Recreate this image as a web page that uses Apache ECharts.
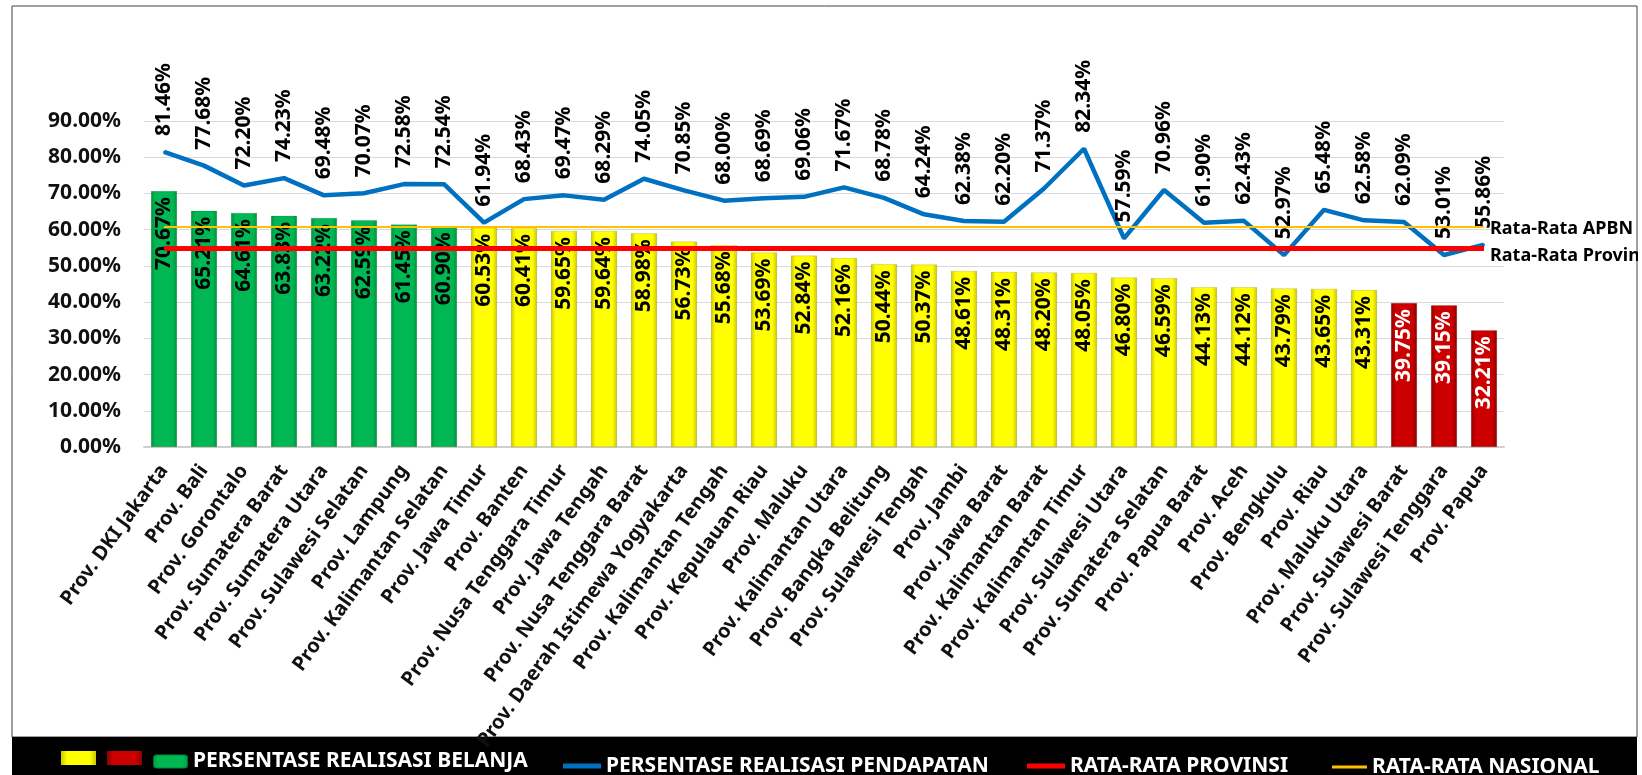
<!DOCTYPE html>
<html>
<head>
<meta charset="utf-8">
<title>Realisasi Belanja dan Pendapatan Provinsi</title>
<script src="https://cdn.jsdelivr.net/npm/echarts@6/dist/echarts.min.js"></script>
<style>
  body { margin: 0; background: #fff; }
  #chart { width: 1642px; height: 775px; }
</style>
</head>
<body>
<div id="chart"></div>
<script>
// data
const kategori = [
  'Prov. DKI Jakarta', 'Prov. Bali', 'Prov. Gorontalo', 'Prov. Sumatera Barat',
  'Prov. Sumatera Utara', 'Prov. Sulawesi Selatan', 'Prov. Lampung', 'Prov. Kalimantan Selatan',
  'Prov. Jawa Timur', 'Prov. Banten', 'Prov. Nusa Tenggara Timur', 'Prov. Jawa Tengah',
  'Prov. Nusa Tenggara Barat', 'Prov. Daerah Istimewa Yogyakarta', 'Prov. Kalimantan Tengah',
  'Prov. Kepulauan Riau', 'Prov. Maluku', 'Prov. Kalimantan Utara', 'Prov. Bangka Belitung',
  'Prov. Sulawesi Tengah', 'Prov. Jambi', 'Prov. Jawa Barat', 'Prov. Kalimantan Barat',
  'Prov. Kalimantan Timur', 'Prov. Sulawesi Utara', 'Prov. Sumatera Selatan', 'Prov. Papua Barat',
  'Prov. Aceh', 'Prov. Bengkulu', 'Prov. Riau', 'Prov. Maluku Utara', 'Prov. Sulawesi Barat',
  'Prov. Sulawesi Tenggara', 'Prov. Papua'
];
const realisasiBelanja = [
  70.67, 65.21, 64.61, 63.83, 63.22, 62.59, 61.45, 60.90, 60.53, 60.41, 59.65, 59.64,
  58.98, 56.73, 55.68, 53.69, 52.84, 52.16, 50.44, 50.37, 48.61, 48.31, 48.20, 48.05,
  46.80, 46.59, 44.13, 44.12, 43.79, 43.65, 43.31, 39.75, 39.15, 32.21
];
const realisasiPendapatan = [
  81.46, 77.68, 72.20, 74.23, 69.48, 70.07, 72.58, 72.54, 61.94, 68.43, 69.47, 68.29,
  74.05, 70.85, 68.00, 68.69, 69.06, 71.67, 68.78, 64.24, 62.38, 62.20, 71.37, 82.34,
  57.59, 70.96, 61.90, 62.43, 52.97, 65.48, 62.58, 62.09, 53.01, 55.86
];
const rataRataProvinsi = 54.85;
const rataRataNasional = 60.75;
const batasBawah = 40;
const yTicks = [0, 10, 20, 30, 40, 50, 60, 70, 80, 90];

const FONT = 'Noto Sans';

function bevel(edge, mid) {
  return new echarts.graphic.LinearGradient(0, 0, 1, 0, [
    { offset: 0, color: edge },
    { offset: 0.18, color: mid },
    { offset: 0.82, color: mid },
    { offset: 1, color: edge }
  ]);
}
const hijau = bevel('#00933f', '#00b853');
const kuning = bevel('#c9c900', '#ffff00');
const merah = bevel('#8a0000', '#cc0000');

const persen = v => v.toFixed(2) + '%';

const barData = realisasiBelanja.map(v => {
  if (v > rataRataNasional) return { value: v };
  if (v < batasBawah) return { value: v, itemStyle: { color: merah }, label: { color: '#fff' } };
  return { value: v, itemStyle: { color: kuning } };
});

const first = kategori[0];
const last = kategori[kategori.length - 1];

const legendText = { color: '#fff', fontSize: 21, fontWeight: 'bold', fontFamily: FONT };

var myChart = echarts.init(document.getElementById('chart'));

var option = {
  animation: false,
  backgroundColor: '#fff',
  textStyle: { fontFamily: FONT },
  grid: { left: 144, right: 138, top: 121, bottom: 328 },
  legend: [
    {
      data: ['PERSENTASE REALISASI BELANJA'],
      left: 152, top: 751, padding: 0, itemWidth: 35, itemHeight: 14,
      textStyle: legendText
    },
    {
      data: [{ name: 'PERSENTASE REALISASI PENDAPATAN', icon: 'rect' }],
      left: 563, top: 755.5, padding: 0, itemWidth: 38, itemHeight: 5,
      textStyle: legendText
    },
    {
      data: [{ name: 'RATA-RATA PROVINSI', icon: 'rect' }],
      left: 1027, top: 755.5, padding: 0, itemWidth: 38, itemHeight: 5,
      textStyle: legendText
    },
    {
      data: [{ name: 'RATA-RATA NASIONAL', icon: 'rect' }],
      left: 1332, top: 756.5, padding: 0, itemWidth: 35, itemHeight: 3,
      textStyle: legendText
    }
  ],
  xAxis: {
    type: 'category',
    data: kategori,
    axisTick: { show: false },
    axisLine: { lineStyle: { color: '#d0d0d0', width: 2 } },
    axisLabel: {
      interval: 0,
      rotate: 54,
      margin: 20,
      fontSize: 20,
      fontWeight: 'bold',
      color: '#111',
      fontFamily: FONT
    }
  },
  yAxis: {
    type: 'value',
    min: yTicks[0],
    max: yTicks[yTicks.length - 1],
    interval: 10,
    axisLine: { show: false },
    axisTick: { show: false },
    splitLine: { lineStyle: { color: '#d9d9d9', width: 1 } },
    axisLabel: {
      margin: 23,
      fontSize: 21,
      fontWeight: 'bold',
      color: '#111',
      fontFamily: FONT,
      formatter: v => persen(v)
    }
  },
  series: [
    {
      name: 'PERSENTASE REALISASI BELANJA',
      type: 'bar',
      barWidth: '65%',
      z: 2,
      itemStyle: { color: hijau, borderColor: 'rgba(0,0,0,0.25)', borderWidth: 0.5 },
      label: {
        show: true,
        position: 'insideTop',
        distance: 6,
        rotate: 90,
        align: 'right',
        verticalAlign: 'middle',
        fontSize: 21,
        fontWeight: 'bold',
        color: '#000',
        fontFamily: FONT,
        formatter: p => persen(p.value)
      },
      data: barData
    },
    {
      name: 'RATA-RATA NASIONAL',
      type: 'line',
      z: 3,
      symbol: 'none',
      data: [],
      lineStyle: { color: '#ffc000', width: 2 },
      itemStyle: { color: '#ffc000' },
      markLine: {
        silent: true,
        symbol: ['none', 'none'],
        lineStyle: { color: '#ffc000', width: 2, type: 'solid' },
        label: {
          show: true, position: 'end', distance: 6, offset: [0, 2],
          formatter: 'Rata-Rata APBN', color: '#000', fontSize: 18, fontWeight: 'bold',
          fontFamily: FONT
        },
        data: [[{ coord: [first, rataRataNasional] }, { coord: [last, rataRataNasional] }]]
      }
    },
    {
      name: 'PERSENTASE REALISASI PENDAPATAN',
      type: 'line',
      z: 4,
      symbol: 'circle',
      symbolSize: 2,
      showSymbol: true,
      lineStyle: { color: '#0070c0', width: 4.5 },
      itemStyle: { color: '#0070c0' },
      label: {
        show: true,
        position: 'top',
        distance: 15,
        rotate: 90,
        align: 'left',
        verticalAlign: 'middle',
        fontSize: 21,
        fontWeight: 'bold',
        color: '#000',
        fontFamily: FONT,
        formatter: p => persen(p.value)
      },
      data: realisasiPendapatan
    },
    {
      name: 'RATA-RATA PROVINSI',
      type: 'line',
      z: 5,
      symbol: 'none',
      data: [],
      lineStyle: { color: '#ff0000', width: 5 },
      itemStyle: { color: '#ff0000' },
      markLine: {
        silent: true,
        symbol: ['none', 'none'],
        lineStyle: { color: '#ff0000', width: 5, type: 'solid' },
        label: {
          show: true, position: 'end', distance: 6, offset: [0, 8],
          formatter: 'Rata-Rata Provinsi', color: '#000', fontSize: 18, fontWeight: 'bold',
          fontFamily: FONT
        },
        data: [[{ coord: [first, rataRataProvinsi] }, { coord: [last, rataRataProvinsi] }]]
      }
    }
  ],
  graphic: [
    {
      type: 'rect', silent: true, z: 0,
      shape: { x: 12, y: 6, width: 1625, height: 731 },
      style: { fill: 'none', stroke: '#404040', lineWidth: 1 }
    },
    {
      type: 'rect', silent: true, z: 0,
      shape: { x: 12, y: 737, width: 1625, height: 38 },
      style: { fill: '#000' }
    },
    {
      type: 'rect', silent: true, z: 100,
      shape: { x: 1638, y: 0, width: 4, height: 775 },
      style: { fill: '#fff' }
    },
    {
      type: 'rect', silent: true, z: 10,
      shape: { x: 61, y: 751, width: 35, height: 14 },
      style: { fill: kuning }
    },
    {
      type: 'rect', silent: true, z: 10,
      shape: { x: 107, y: 751, width: 35, height: 14 },
      style: { fill: merah }
    }
  ]
};

option && myChart.setOption(option);
</script>
</body>
</html>
